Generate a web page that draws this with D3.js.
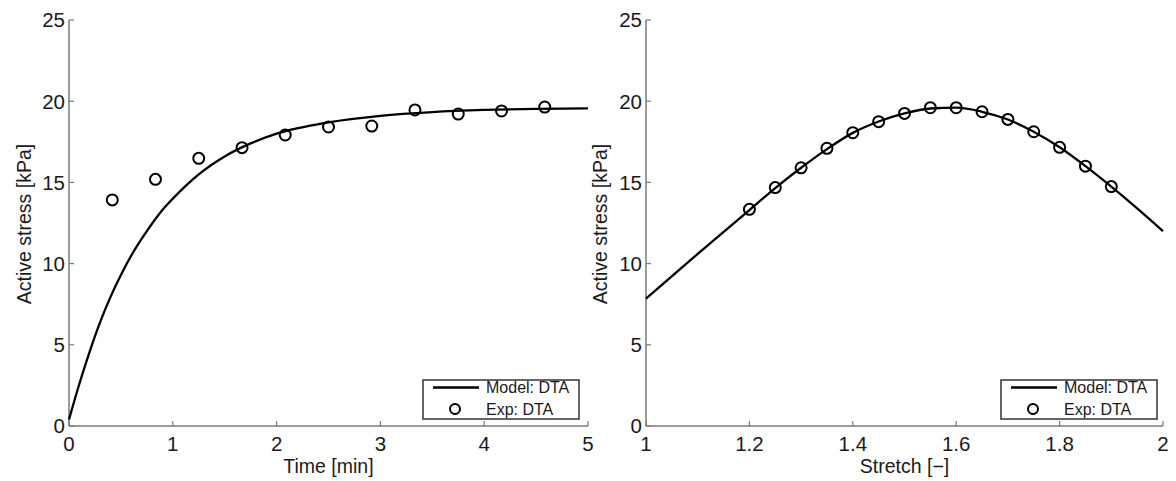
<!DOCTYPE html>
<html><head><meta charset="utf-8">
<script src="https://cdn.jsdelivr.net/npm/d3@7"></script>
<style>
body{margin:0;background:#fff;}
text{font-family:"Liberation Sans",Arial,sans-serif;fill:#1a1a1a;}
</style></head>
<body><svg id="c" width="1176" height="481"></svg>
<script>
// Left panel: time response
const modelTime = [0,0.1,0.2,0.3,0.4,0.5,0.6,0.75,0.9,1.0,1.25,1.5,1.75,2.0,2.5,3.0,3.5,4.0,4.5,5.0];
const modelTimeStress = [0.4,2.6,4.6,6.4,7.95,9.3,10.5,12.0,13.3,14.0,15.5,16.6,17.4,18.0,18.7,19.1,19.33,19.46,19.53,19.56];
const expTime = [0.417,0.833,1.25,1.667,2.083,2.5,2.917,3.333,3.75,4.167,4.583];
const expTimeStress = [13.92,15.19,16.48,17.14,17.92,18.41,18.47,19.46,19.21,19.40,19.64];
// Right panel: stretch response
const modelStretch = [1.0,1.1,1.2,1.25,1.3,1.35,1.4,1.45,1.5,1.55,1.6,1.65,1.7,1.75,1.8,1.85,1.9,1.95,2.0];
const modelStretchStress = [7.85,10.6,13.3,14.65,15.9,17.05,18.05,18.75,19.25,19.55,19.6,19.35,18.87,18.12,17.16,16.0,14.74,13.4,12.0];
const expStretch = [1.2,1.25,1.3,1.35,1.4,1.45,1.5,1.55,1.6,1.65,1.7,1.75,1.8,1.85,1.9];
const expStretchStress = [13.34,14.68,15.9,17.1,18.06,18.74,19.25,19.6,19.6,19.35,18.88,18.12,17.16,16.0,14.74];
const yTicks = [0,5,10,15,20,25];
const timeTicks = [0,1,2,3,4,5];
const stretchTicks = [1,1.2,1.4,1.6,1.8,2];
const legendLabels = ["Model: DTA","Exp: DTA"];

const svg = d3.select("#c");
const axisColor = "#7a7a7a";

function panel(cfg){
  const g = svg.append("g");
  const x = d3.scaleLinear().domain(cfg.xdom).range(cfg.xr);
  const y = d3.scaleLinear().domain([0,25]).range([426,20]);
  g.append("line").attr("x1",cfg.xr[0]).attr("x2",cfg.xr[0]).attr("y1",y(0)).attr("y2",y(25))
    .attr("stroke",axisColor).attr("stroke-width",1.5);
  g.append("line").attr("x1",cfg.xr[0]).attr("x2",cfg.xr[1]).attr("y1",y(0)).attr("y2",y(0))
    .attr("stroke",axisColor).attr("stroke-width",1.5);
  yTicks.forEach(t=>{
    g.append("line").attr("x1",cfg.xr[0]).attr("x2",cfg.xr[0]+5).attr("y1",y(t)).attr("y2",y(t))
      .attr("stroke",axisColor).attr("stroke-width",1.2);
    g.append("text").attr("x",cfg.xr[0]-4).attr("y",y(t)).attr("dy","0.36em")
      .attr("text-anchor","end").style("font-size","20.5px").text(t);
  });
  cfg.xticks.forEach(t=>{
    g.append("line").attr("x1",x(t)).attr("x2",x(t)).attr("y1",y(0)).attr("y2",y(0)-5)
      .attr("stroke",axisColor).attr("stroke-width",1.2);
    g.append("text").attr("x",x(t)).attr("y",y(0)+18).attr("dy","0.36em")
      .attr("text-anchor","middle").style("font-size","20.5px").text(t);
  });
  g.append("text").attr("x",(cfg.xr[0]+cfg.xr[1])/2).attr("y",473)
    .attr("text-anchor","middle").style("font-size","19.5px").text(cfg.xlabel);
  g.append("text").attr("transform",`translate(${cfg.ylabx},224) rotate(-90)`).attr("dy","0.36em")
    .attr("text-anchor","middle").style("font-size","19.5px").text("Active stress [kPa]");
  const line = d3.line().x(d=>x(d[0])).y(d=>y(d[1])).curve(d3.curveMonotoneX);
  g.append("path").datum(cfg.mx.map((v,i)=>[v,cfg.my[i]])).attr("d",line)
    .attr("fill","none").attr("stroke","#000").attr("stroke-width",2.3);
  g.selectAll("circle.e").data(cfg.ex.map((v,i)=>[v,cfg.ey[i]])).enter().append("circle")
    .attr("cx",d=>x(d[0])).attr("cy",d=>y(d[1])).attr("r",5.5)
    .attr("fill","none").attr("stroke","#000").attr("stroke-width",2);
  const lx = cfg.legX, ly = 380;
  g.append("rect").attr("x",lx).attr("y",ly).attr("width",156).attr("height",39)
    .attr("fill","#fff").attr("stroke","#333").attr("stroke-width",1.5);
  g.append("line").attr("x1",lx+10).attr("x2",lx+56).attr("y1",ly+7.5).attr("y2",ly+7.5)
    .attr("stroke","#000").attr("stroke-width",2.3);
  g.append("circle").attr("cx",lx+32).attr("cy",ly+29).attr("r",5)
    .attr("fill","none").attr("stroke","#000").attr("stroke-width",2);
  legendLabels.forEach((l,i)=>{
    g.append("text").attr("x",lx+63).attr("y",ly+7.5+i*21.5).attr("dy","0.36em")
      .style("font-size","16px").text(l);
  });
}

panel({xdom:[0,5],xr:[69,588],xticks:timeTicks,xlabel:"Time [min]",ylabx:24,
  mx:modelTime,my:modelTimeStress,ex:expTime,ey:expTimeStress,legX:423});
panel({xdom:[1,2],xr:[646,1163],xticks:stretchTicks,xlabel:"Stretch [\u2212]",ylabx:600,
  mx:modelStretch,my:modelStretchStress,ex:expStretch,ey:expStretchStress,legX:1001});
</script></body></html>
